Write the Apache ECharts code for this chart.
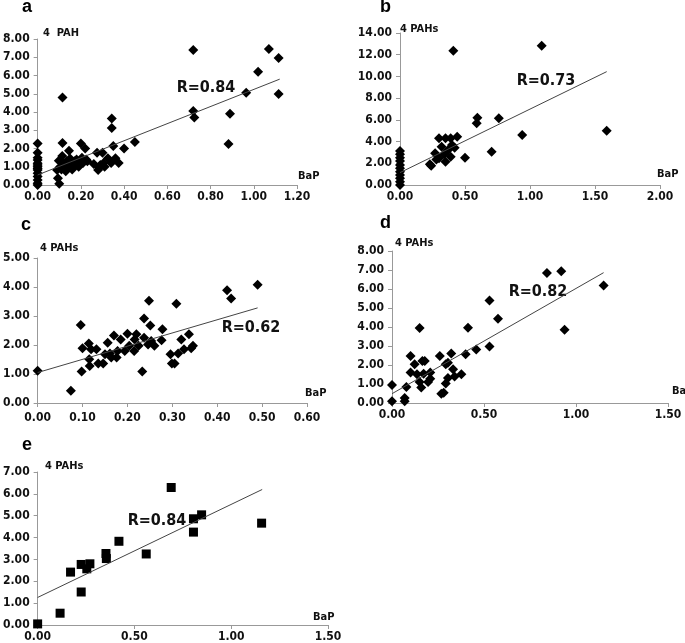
<!DOCTYPE html>
<html><head><meta charset="utf-8">
<script src="https://cdn.jsdelivr.net/npm/echarts@6/dist/echarts.min.js"></script>
<style>html,body{margin:0;padding:0;background:#fff}#c{width:685px;height:643px}</style>
</head><body><div id="c"></div>
<script>
// ---- data ----
const pointsA = [
 [0,2.28],[0,1.77],[0,1.5],[0,1.37],[0,1.19],[0,1.1],[0,1.0],[0,0.9],[0,0.82],[0,0.64],[0,0.46],[0,0.27],[0,0.09],[0,0.0],
 [0.09,0.82],[0.094,0.37],[0.10,0.07],[0.098,1.33],[0.105,1.0],[0.11,0.85],[0.114,1.59],[0.115,4.8],[0.115,2.3],[0.12,1.2],
 [0.125,1.05],[0.13,0.75],[0.135,1.3],[0.14,1.1],[0.145,1.88],[0.15,1.45],[0.155,1.2],[0.16,0.85],[0.17,1.3],[0.175,1.15],
 [0.18,1.4],[0.19,1.0],[0.195,1.3],[0.20,2.28],[0.205,1.5],[0.21,1.2],[0.22,2.0],[0.225,1.4],[0.23,1.3],
 [0.26,1.15],[0.275,1.77],[0.28,0.82],[0.285,0.95],[0.29,1.1],[0.30,1.77],[0.305,1.2],[0.31,1.0],[0.325,1.46],[0.34,1.2],
 [0.343,3.65],[0.343,3.12],[0.35,2.14],[0.36,1.46],[0.375,1.2],[0.40,2.0],[0.45,2.36],
 [0.72,7.4],[0.72,4.05],[0.725,3.7],[0.883,2.25],[0.89,3.9],[0.965,5.06],[1.02,6.2],[1.07,7.45],[1.115,6.96],[1.115,4.99]
];
const trendA = [[0,0.55],[1.12,5.8]];

const pointsB = [
 [0,3.13],[0,2.83],[0,2.52],[0,2.2],[0,1.84],[0,1.54],[0,1.23],[0,0.92],[0,0.62],[0,0.3],[0,0.0],
 [0.24,1.78],[0.23,1.9],[0.27,2.92],[0.28,2.36],[0.30,2.46],[0.30,4.3],[0.32,3.53],[0.34,2.83],[0.35,2.15],[0.35,4.3],
 [0.37,3.22],[0.39,2.6],[0.39,4.3],[0.40,3.68],[0.42,3.44],[0.44,4.45],[0.41,12.37],[0.50,2.52],
 [0.59,5.68],[0.595,6.2],[0.76,6.14],[0.705,3.07],[0.94,4.6],[1.09,12.83],[1.59,5.0]
];
const trendB = [[0,1.14],[1.59,10.44]];

const pointsC = [
 [0,1.11],[0.074,0.42],[0.096,2.69],[0.10,1.89],[0.098,1.09],[0.114,2.05],[0.119,1.85],[0.115,1.51],[0.116,1.28],
 [0.131,1.85],[0.135,1.36],[0.146,1.36],[0.15,1.68],[0.156,2.08],[0.161,1.71],[0.164,1.57],[0.17,2.33],[0.176,1.57],
 [0.178,1.79],[0.185,2.19],[0.194,1.79],[0.20,2.39],[0.204,1.97],[0.215,1.79],[0.216,2.19],[0.22,2.37],[0.225,1.97],
 [0.233,1.09],[0.237,2.91],[0.237,2.25],[0.248,3.53],[0.251,2.67],[0.246,2.02],[0.253,2.14],[0.26,1.97],[0.278,2.54],
 [0.276,2.16],[0.296,1.68],[0.299,1.36],[0.305,1.36],[0.309,3.42],[0.313,1.71],[0.32,2.19],[0.326,1.85],[0.337,2.37],
 [0.342,1.89],[0.346,1.97],[0.422,3.89],[0.431,3.6],[0.49,4.08]
];
const trendC = [[0,1.05],[0.49,3.28]];

const pointsD = [
 [0,0.95],[0,0.09],[0.069,0.26],[0.069,0.09],[0.078,0.84],[0.101,2.47],[0.101,1.6],[0.123,2.04],[0.136,1.51],[0.15,3.95],
 [0.15,1.1],[0.165,2.21],[0.178,2.21],[0.172,1.54],[0.159,0.81],[0.196,1.1],[0.208,1.6],[0.208,1.28],[0.26,2.47],
 [0.268,0.49],[0.281,0.54],[0.292,1.02],[0.292,2.04],[0.304,2.12],[0.304,1.32],[0.322,2.6],[0.332,1.77],[0.34,1.4],
 [0.377,1.51],[0.40,2.56],[0.413,3.96],[0.458,2.82],[0.53,5.4],[0.53,2.98],[0.576,4.44],[0.842,6.84],[0.92,6.93],
 [0.938,3.86],[1.15,6.19]
];
const trendD = [[0,0.49],[1.15,6.86]];

const pointsE = [
 [0,0.05],[0.116,0.54],[0.17,2.42],[0.225,1.51],[0.225,2.77],[0.254,2.57],[0.27,2.8],[0.353,3.27],[0.355,3.04],
 [0.42,3.83],[0.561,3.25],[0.69,6.29],[0.805,4.86],[0.805,4.25],[0.847,5.04],[1.157,4.66]
];
const trendE = [[0,1.26],[1.16,6.2]];

const panelLetters = ['a','b','c','d','e'];
const yNames = ['4  PAH','4 PAHs','4 PAHs','4 PAHs','4 PAHs'];
const xName = 'BaP';
const rLabels = ['R=0.84','R=0.73','R=0.62','R=0.82','R=0.84'];
const xMax = [1.2, 2.0, 0.6, 1.5, 1.5];
const xStep = [0.2, 0.5, 0.1, 0.5, 0.5];
const yMax = [8, 14, 5, 8, 7];
const yStep = [1, 2, 1, 1, 1];

// ---- layout / style ----
const grids = [
 {left:37, top:39, width:260, height:146},
 {left:400, top:33, width:260, height:152},
 {left:36, top:258, width:271, height:145},
 {left:392, top:251, width:276, height:152},
 {left:35, top:472, width:293, height:154}
];
const FONT = "'Liberation Sans Narrow','DejaVu Sans Condensed','Arial Narrow',sans-serif";
const axisLine = {lineStyle:{color:'#999', width:1}};
const pts = [pointsA, pointsB, pointsC, pointsD, pointsE];
const trends = [trendA, trendB, trendC, trendD, trendE];

const xAxes = [], yAxes = [], series = [];
for (let i = 0; i < 5; i++) {
  xAxes.push({gridIndex:i, type:'value', min:0, max:xMax[i], interval:xStep[i],
    axisLine:Object.assign({onZero:false}, axisLine), axisTick:{show:true, length:4, lineStyle:{color:'#999'}},
    splitLine:{show:false},
    axisLabel:{color:'#111', fontFamily:FONT, fontWeight:'bold', fontSize:12, margin:i===2?9:6,
      formatter:v=>v.toFixed(2)}});
  yAxes.push({gridIndex:i, type:'value', min:0, max:yMax[i], interval:yStep[i],
    axisLine:Object.assign({show:true}, axisLine), axisTick:{show:true, length:4, lineStyle:{color:'#999'}},
    splitLine:{show:false},
    axisLabel:{color:'#111', fontFamily:FONT, fontWeight:'bold', fontSize:12, margin:8,
      formatter:v=>v.toFixed(2)}});
  series.push({type:'scatter', xAxisIndex:i, yAxisIndex:i, data:pts[i],
    symbol: i===4 ? 'rect' : 'diamond', symbolSize: i===4 ? 9 : 10,
    itemStyle:{color:'#000', opacity:1}, z:3});
  series.push({type:'line', xAxisIndex:i, yAxisIndex:i, data:trends[i], symbol:'none',
    lineStyle:{color:'#444', width:1}, z:4, silent:true});
}

const graphic = [];
const letterPos = [[27,8],[385,8],[26,226],[385,224],[27,446]];
const yNamePos = [[43,33],[400,29],[40,248],[395,243],[45,466]];
const xNamePos = [[298,176],[657,174],[305,393],[672,391],[313,617]];
const rPos = [[206,88],[546,81],[251,328],[538,292],[157,521]];
for (let i = 0; i < 5; i++) {
  graphic.push({type:'text', left:letterPos[i][0]-5, top:letterPos[i][1]-10,
    style:{text:panelLetters[i], fontFamily:'Arial,Liberation Sans,sans-serif', fontWeight:'bold', fontSize:18, fill:'#000'}});
  graphic.push({type:'text', x:yNamePos[i][0], y:yNamePos[i][1],
    style:{text:yNames[i], fontFamily:FONT, fontWeight:'bold', fontSize:11, fill:'#111', verticalAlign:'middle'}});
  graphic.push({type:'text', x:xNamePos[i][0], y:xNamePos[i][1],
    style:{text:xName, fontFamily:FONT, fontWeight:'bold', fontSize:11, fill:'#111', verticalAlign:'middle'}});
  graphic.push({type:'text', x:rPos[i][0], y:rPos[i][1],
    style:{text:rLabels[i], fontFamily:FONT, fontWeight:'bold', fontSize:16, fill:'#111', align:'center', verticalAlign:'middle'}});
}

const chart = echarts.init(document.getElementById('c'), null, {renderer:'canvas'});
chart.setOption({animation:false, backgroundColor:'#fff', grid:grids, xAxis:xAxes, yAxis:yAxes, series:series, graphic:graphic});
</script></body></html>
